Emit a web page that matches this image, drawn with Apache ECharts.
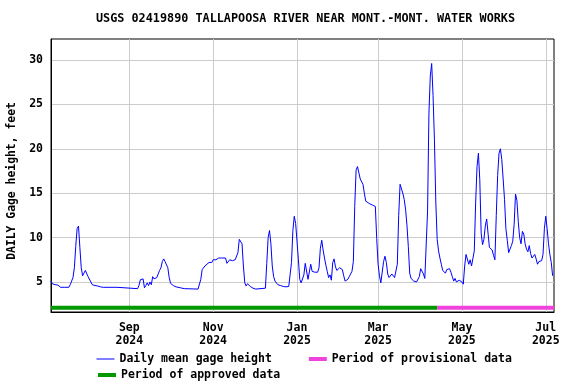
<!DOCTYPE html>
<html><head><meta charset="utf-8">
<script src="https://cdn.jsdelivr.net/npm/echarts@6/dist/echarts.min.js"></script>
<style>html,body{margin:0;padding:0;background:#fff}#c{width:576px;height:384px}</style>
</head><body><div id="c"></div>
<script>
const titleText = 'USGS 02419890 TALLAPOOSA RIVER NEAR MONT.-MONT. WATER WORKS';
const yAxisTitle = 'DAILY Gage height, feet';
const seriesNames = ['Daily mean gage height', 'Period of approved data', 'Period of provisional data'];
const startDate = '2024-07-06';
const endDate = '2025-07-07';
const provisionalStart = '2025-04-13';
const xTickDates = ['2024-09-01','2024-11-01','2025-01-01','2025-03-01','2025-05-01','2025-07-01'];
const monthNames = ['Jan','Feb','Mar','Apr','May','Jun','Jul','Aug','Sep','Oct','Nov','Dec'];
const yTicks = [5, 10, 15, 20, 25, 30];
const yMin = 1.62, yMax = 32.36;
const periodBarLevel = 2.1;
// days after startDate
const dayOffsets = [0,1,3,5,7,10,13,14,15,16,17,18,19,20,21,22,23,24,25,26,27,28,29,30,32,34,35,36,38,48,49,63,64,65,66,67,68,69,70,71,72,73,74,75,76,77,78,79,80,81,82,83,84,85,86,87,89,91,94,97,107,108,109,110,111,112,113,115,116,117,118,119,120,121,122,123,124,125,127,128,129,130,131,132,134,135,136,137,138,139,140,141,142,143,144,145,146,147,149,156,157,158,159,160,161,162,163,164,165,166,167,168,169,170,171,172,173,174,175,176,177,178,179,180,181,182,183,184,185,186,187,188,189,190,191,192,193,194,195,196,197,198,199,200,201,202,203,204,205,206,207,208,209,210,211,212,213,214,215,216,217,218,219,220,221,222,223,224,225,226,227,228,229,230,232,234,236,237,238,239,240,241,242,243,244,245,246,247,248,249,250,251,252,253,254,255,256,257,258,259,260,261,262,263,264,265,266,267,268,269,270,271,272,273,274,275,276,277,278,279,280,281,282,283,284,285,286,287,288,289,290,291,292,293,294,295,296,297,298,299,300,301,302,303,304,305,306,307,308,309,310,311,312,313,314,315,316,317,318,319,320,321,322,323,324,325,326,327,328,329,330,331,332,333,334,335,336,337,338,339,340,341,342,343,344,345,346,347,348,349,350,351,352,353,354,355,356,357,358,359,360,361,362,363,364,365];
const gageHeights = [5.1,4.8,4.7,4.65,4.4,4.4,4.4,4.7,5.1,5.5,6.6,9.0,11.0,11.3,8.9,6.6,5.7,5.7,6.3,6.4,5.6,5.6,5.0,4.7,4.6,4.55,4.7,4.45,4.4,4.4,4.25,4.25,4.6,5.25,5.3,5.35,4.35,4.6,4.9,4.6,5.0,4.7,5.6,5.35,5.4,5.5,5.9,6.3,6.6,7.3,7.6,7.3,7.4,6.6,5.5,4.85,4.6,4.45,4.35,4.25,4.2,4.25,5.3,6.4,6.6,6.8,7.0,7.2,7.1,7.2,7.5,7.6,7.5,7.3,7.7,7.5,7.7,7.5,7.7,7.1,7.3,7.5,7.6,7.4,7.5,7.5,8.3,9.8,9.7,9.3,6.8,4.9,4.55,4.8,4.9,4.5,4.4,4.3,4.2,4.3,7.1,10.0,10.8,9.3,6.8,5.6,5.1,4.95,4.7,4.8,4.6,4.7,4.5,4.6,4.45,4.5,4.5,4.5,7.2,10.8,12.4,11.6,9.6,7.5,5.3,4.9,4.8,5.8,7.1,7.0,5.3,5.5,7.0,6.2,6.2,6.1,5.9,6.1,6.6,8.8,9.7,8.6,7.7,6.9,6.2,5.5,5.8,5.2,7.2,7.6,6.7,6.3,6.2,6.6,6.7,6.4,5.7,5.1,4.9,5.3,5.6,5.9,6.2,7.3,13.5,17.6,18.0,18.1,16.6,16.4,16.0,15.0,14.1,13.9,13.8,13.65,13.5,9.9,7.0,5.7,4.9,4.9,7.3,7.9,7.2,5.9,5.5,5.6,5.9,5.8,5.5,5.3,7.0,12.5,16.0,15.8,15.0,14.3,13.2,11.4,9.0,6.0,5.4,5.2,5.1,4.9,5.0,5.2,5.6,6.5,6.7,5.9,5.4,5.2,13.0,24.0,28.2,29.6,26.0,21.0,14.0,9.8,8.5,7.7,7.0,6.3,6.5,6.0,6.4,6.5,6.5,6.1,5.6,5.1,5.4,5.0,5.1,5.2,5.1,5.0,4.75,6.8,8.1,8.0,7.0,7.5,6.8,6.8,8.5,14.0,18.0,19.5,16.5,10.5,9.2,9.8,11.3,12.1,10.5,8.9,8.7,8.6,8.0,7.5,12.5,17.0,19.5,20.0,18.8,16.6,14.3,11.0,9.7,8.3,8.2,9.1,9.6,11.5,14.9,14.2,11.8,10.0,9.3,10.7,10.4,9.3,8.7,8.4,9.1,8.2,7.7,7.6,8.1,7.6,7.0,7.3,7.1,7.4,8.1,11.0,12.4,11.0,9.3,8.1,7.2,5.7];

const DAY = 86400000;
const t0 = Date.parse(startDate);
const tEnd = Date.parse(endDate);
const tProv = Date.parse(provisionalStart);
const mainData = dayOffsets.map((d, i) => [t0 + d * DAY, gageHeights[i]]);
const approvedData = [[t0, periodBarLevel], [tProv, periodBarLevel]];
const provisionalData = [[tProv, periodBarLevel], [tEnd, periodBarLevel]];
const xTickValues = xTickDates.map(s => Date.parse(s));

const FONT = 'DejaVu Sans Mono';
const txt = { fontFamily: FONT, fontWeight: 'bold', fontSize: 11.5, color: '#000' };

const chart = echarts.init(document.getElementById('c'), null, { renderer: 'canvas' });
chart.setOption({
  animation: false,
  backgroundColor: '#fff',
  title: {
    text: titleText, left: 96, top: 13, padding: 0,
    textStyle: { fontFamily: FONT, fontWeight: 'bold', fontSize: 11.8, color: '#000' }
  },
  grid: { left: 51, top: 39, right: 22, bottom: 72, show: true, borderColor: '#000', borderWidth: 1,
    backgroundColor: 'transparent', containLabel: false, outerBoundsMode: 'none' },
  legend: [
    { left: 96, top: 353, itemWidth: 18, itemHeight: 10, itemGap: 35, selectedMode: false, padding: 0,
      itemStyle: { opacity: 0 }, lineStyle: { width: 'inherit' }, textStyle: txt, data: [seriesNames[0], seriesNames[2]] },
    { left: 96, top: 369, itemWidth: 18, itemHeight: 10, selectedMode: false, padding: 0,
      itemStyle: { opacity: 0 }, lineStyle: { width: 'inherit' }, textStyle: txt, data: [seriesNames[1]] }
  ],
  xAxis: {
    type: 'value', min: t0, max: tEnd,
    axisLine: { show: true, lineStyle: { color: '#000', width: 1 } },
    axisTick: { show: false, customValues: xTickValues },
    axisLabel: {
      customValues: xTickValues, margin: 10, lineHeight: 13, ...txt,
      formatter: v => { const d = new Date(v); return monthNames[d.getUTCMonth()] + '\n' + d.getUTCFullYear(); }
    },
    splitLine: { show: true, lineStyle: { color: '#cccccc', width: 1 } }
  },
  yAxis: {
    type: 'value', min: yMin, max: yMax,
    name: yAxisTitle, nameLocation: 'middle', nameGap: 33, nameRotate: 90,
    nameTextStyle: { ...txt, fontSize: 11.4, padding: [0, 11, 0, 0] },
    axisLine: { show: true, lineStyle: { color: '#000', width: 1 } },
    axisTick: { show: false, customValues: yTicks },
    axisLabel: { customValues: yTicks, margin: 8, ...txt },
    splitLine: { show: true, lineStyle: { color: '#cccccc', width: 1 } }
  },
  series: [
    { name: seriesNames[0], type: 'line', data: mainData, symbol: 'none', showSymbol: false,
      lineStyle: { color: '#0000ff', width: 1 }, itemStyle: { color: '#0000ff' }, z: 3 },
    { name: seriesNames[1], type: 'line', data: approvedData, symbol: 'none', showSymbol: false,
      lineStyle: { color: '#009900', width: 4 }, itemStyle: { color: '#009900' }, z: 2 },
    { name: seriesNames[2], type: 'line', data: provisionalData, symbol: 'none', showSymbol: false,
      lineStyle: { color: '#ee44dd', width: 4 }, itemStyle: { color: '#ee44dd' }, z: 2 }
  ]
});
</script></body></html>
